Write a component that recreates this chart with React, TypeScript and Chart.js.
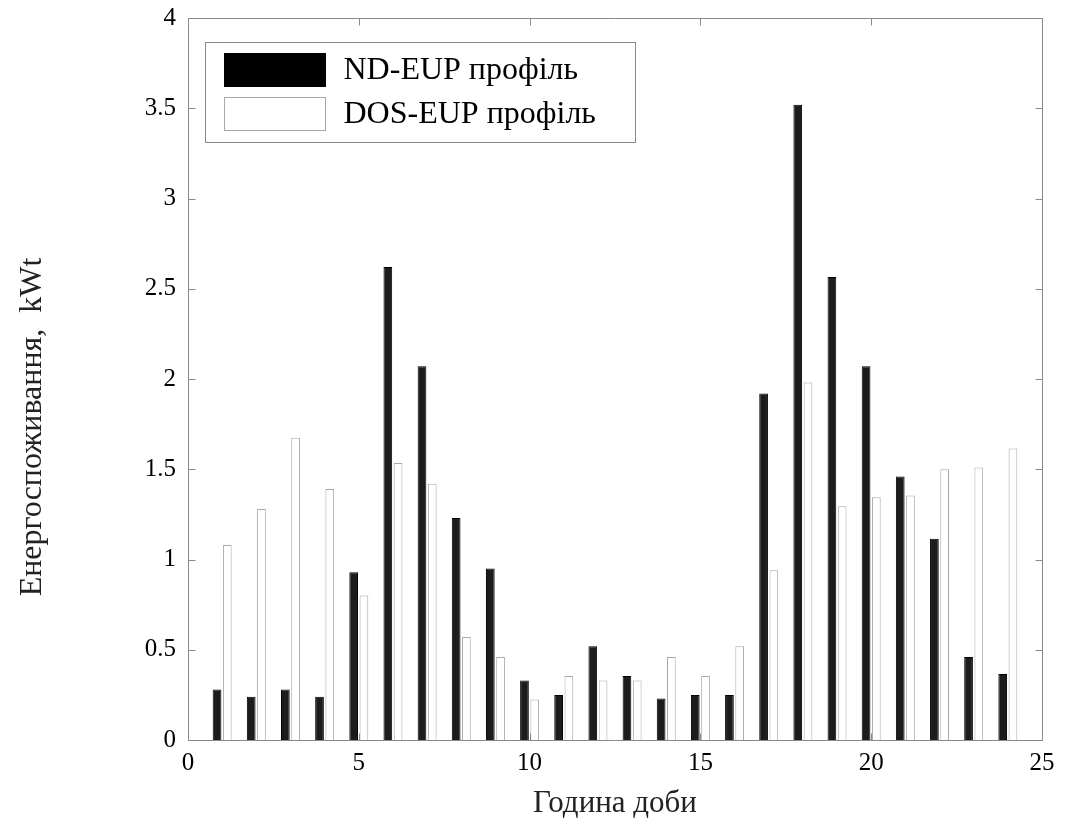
import React, { useEffect, useRef } from "react";
import { Chart, registerables } from "chart.js";

Chart.register(...registerables);

const hours = [1, 2, 3, 4, 5, 6, 7, 8, 9, 10, 11, 12, 13, 14, 15, 16, 17, 18, 19, 20, 21, 22, 23, 24];
const ndEupValues = [0.28, 0.24, 0.28, 0.24, 0.93, 2.62, 2.07, 1.23, 0.95, 0.33, 0.25, 0.52, 0.355, 0.23, 0.25, 0.25, 1.92, 3.52, 2.565, 2.07, 1.46, 1.115, 0.46, 0.365];
const dosEupValues = [1.08, 1.28, 1.675, 1.39, 0.8, 1.535, 1.42, 0.57, 0.46, 0.225, 0.355, 0.33, 0.33, 0.46, 0.355, 0.52, 0.94, 1.98, 1.295, 1.345, 1.355, 1.5, 1.51, 1.615];
const xTickValues = [0, 5, 10, 15, 20, 25];
const yTickValues = [0, 0.5, 1, 1.5, 2, 2.5, 3, 3.5, 4];
const seriesLabels = ["ND-EUP профіль", "DOS-EUP профіль"];
const xTitle = "Година доби";
const yTitle = "Енергоспоживання,  kWt";

const FONT = "'Liberation Serif', 'Times New Roman', serif";

const yTitleShiftPlugin = {
  id: "yTitleShift",
  beforeDraw(chart: any) {
    const s = chart.scales.y;
    if (s && !s.__shifted) {
      const orig = s.drawTitle.bind(s);
      s.drawTitle = () => {
        const ctx = chart.ctx;
        ctx.save();
        ctx.translate(0, 48);
        orig();
        ctx.restore();
      };
      s.__shifted = true;
    }
  },
};

const framePlugin = {
  id: "matlabFrame",
  afterDatasetsDraw(chart: any) {
    const { ctx, chartArea: a, scales } = chart;
    const L = Math.round(a.left) + 0.5;
    const R = Math.round(a.right) + 0.5;
    const T = Math.round(a.top) + 0.5;
    const B = Math.round(a.bottom) + 0.5;
    const len = 7;
    ctx.save();
    ctx.strokeStyle = "#8a8a8a";
    ctx.lineWidth = 1;
    ctx.beginPath();
    ctx.rect(L, T, R - L, B - T);
    ctx.stroke();
    ctx.beginPath();
    for (const v of xTickValues) {
      const px = Math.round(scales.x.getPixelForValue(v)) + 0.5;
      ctx.moveTo(px, B);
      ctx.lineTo(px, B - len);
      ctx.moveTo(px, T);
      ctx.lineTo(px, T + len);
    }
    for (const v of yTickValues) {
      const py = Math.round(scales.y.getPixelForValue(v)) + 0.5;
      ctx.moveTo(L, py);
      ctx.lineTo(L + len, py);
      ctx.moveTo(R, py);
      ctx.lineTo(R - len, py);
    }
    ctx.stroke();
    ctx.restore();
  },
};

const legendPlugin = {
  id: "boxLegend",
  afterDraw(chart: any) {
    const { ctx, chartArea: a } = chart;
    const bx = Math.round(a.left) + 17.5;
    const by = Math.round(a.top) + 24.5;
    const bw = 430;
    const bh = 100;
    ctx.save();
    ctx.fillStyle = "#ffffff";
    ctx.fillRect(bx, by, bw, bh);
    ctx.strokeStyle = "#8a8a8a";
    ctx.lineWidth = 1;
    ctx.strokeRect(bx, by, bw, bh);
    const rows = [by + 11, by + 55];
    chart.data.datasets.forEach((ds: any, i: number) => {
      const sy = rows[i];
      ctx.fillStyle = ds.legendFill;
      ctx.fillRect(bx + 19, sy, 101, 33);
      ctx.strokeStyle = ds.borderColor;
      ctx.strokeRect(bx + 19, sy, 101, 33);
      ctx.fillStyle = "#000000";
      ctx.font = `32px ${FONT}`;
      ctx.textBaseline = "middle";
      ctx.textAlign = "left";
      ctx.fillText(ds.label, bx + 138, sy + 17);
    });
    ctx.restore();
  },
};

export default function App() {
  const canvasRef = useRef<HTMLCanvasElement | null>(null);

  useEffect(() => {
    const canvas = canvasRef.current;
    if (!canvas) return;
    const chart = new Chart(canvas, {
      type: "bar",
      data: {
        labels: hours,
        datasets: [
          {
            label: seriesLabels[0],
            data: ndEupValues,
            backgroundColor: "#1c1c1c",
            borderColor: "#000000",
            legendFill: "#000000",
            borderWidth: 1,
            categoryPercentage: 0.6,
            barPercentage: 0.85,
          } as any,
          {
            label: seriesLabels[1],
            data: dosEupValues,
            backgroundColor: "#ffffff",
            borderColor: "#a8a8a8",
            legendFill: "#ffffff",
            borderWidth: 1,
            categoryPercentage: 0.6,
            barPercentage: 0.85,
          } as any,
        ],
      },
      options: {
        responsive: false,
        animation: false,
        maintainAspectRatio: false,
        layout: { padding: { top: 18, right: 33, bottom: 0, left: 0 } },
        plugins: {
          legend: { display: false },
          tooltip: { enabled: false },
        },
        scales: {
          x: {
            type: "linear",
            min: 0,
            max: 25,
            offset: false,
            grid: { display: false, drawTicks: false },
            border: { display: false },
            afterBuildTicks: (scale: any) => {
              scale.ticks = xTickValues.map((v) => ({ value: v }));
            },
            afterFit: (scale: any) => {
              scale.height = 82;
              scale.paddingLeft = 0;
              scale.paddingRight = 0;
            },
            ticks: {
              padding: 8,
              color: "#000000",
              font: { family: FONT, size: 25 },
              callback: (v: any) => String(v),
            },
            title: {
              display: true,
              text: xTitle,
              color: "#222222",
              font: { family: FONT, size: 31 },
              padding: { top: 0, bottom: 0 },
            },
          },
          y: {
            type: "linear",
            min: 0,
            max: 4,
            grid: { display: false, drawTicks: false },
            border: { display: false },
            afterBuildTicks: (scale: any) => {
              scale.ticks = yTickValues.map((v) => ({ value: v }));
            },
            afterFit: (scale: any) => {
              scale.width = 188;
              scale.paddingTop = 0;
              scale.paddingBottom = 0;
            },
            ticks: {
              padding: 12,
              color: "#000000",
              font: { family: FONT, size: 25 },
              callback: (v: any) => String(v),
            },
            title: {
              display: true,
              text: yTitle,
              color: "#222222",
              font: { family: FONT, size: 32 },
              padding: { top: 13, bottom: 0 },
            },
          },
        },
      },
      plugins: [yTitleShiftPlugin, framePlugin, legendPlugin],
    });
    return () => chart.destroy();
  }, []);

  return (
    <div style={{ position: "absolute", left: 0, top: 0, width: 1075, height: 822, background: "#ffffff" }}>
      <canvas ref={canvasRef} width={1075} height={822} style={{ display: "block" }} />
    </div>
  );
}
